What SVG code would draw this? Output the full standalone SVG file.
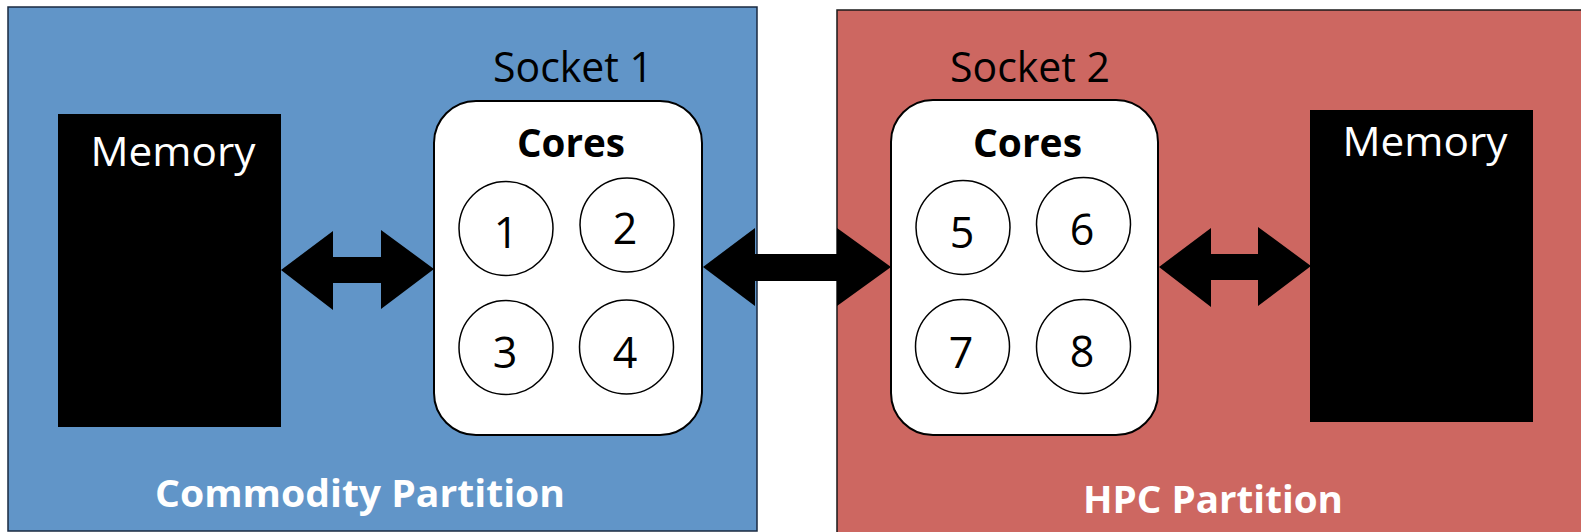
<svg xmlns="http://www.w3.org/2000/svg" width="1581" height="532" viewBox="0 0 1581 532">
  <style>
    .panel-blue { fill: #6195c8; stroke: #1a2a40; stroke-width: 1.5; }
    .panel-red { fill: #cd6761; stroke: #1a1a1a; stroke-width: 1.5; }
    .mem { fill: #000000; }
    .mem-label { font-family: "Open Sans", "Liberation Sans", sans-serif; font-size: 41px; fill: #ffffff; text-anchor: middle; }
    .socket-label { font-family: "Open Sans", "Liberation Sans", sans-serif; font-size: 42px; fill: #000000; text-anchor: middle; }
    .socket { fill: #ffffff; stroke: #000000; stroke-width: 2; }
    .cores-label { font-family: "Open Sans", "Liberation Sans", sans-serif; font-weight: bold; font-size: 40px; fill: #000000; text-anchor: middle; }
    .core { fill: #ffffff; stroke: #000000; stroke-width: 1.5; }
    .core-num { font-family: "Open Sans", "Liberation Sans", sans-serif; font-size: 43px; fill: #000000; text-anchor: middle; }
    .part-label { font-family: "Open Sans", "Liberation Sans", sans-serif; font-weight: bold; font-size: 38px; fill: #ffffff; text-anchor: middle; }
    .link { fill: #000000; stroke: none; }
  </style>

  <!-- partitions -->
  <g id="commodity-partition">
    <rect class="panel-blue" x="8" y="7" width="749" height="524"/>
    <text class="part-label" x="360" y="507" textLength="410" lengthAdjust="spacingAndGlyphs">Commodity Partition</text>
  </g>
  <g id="hpc-partition">
    <rect class="panel-red" x="837" y="10" width="760" height="540"/>
    <text class="part-label" x="1213" y="513" textLength="260" lengthAdjust="spacingAndGlyphs">HPC Partition</text>
  </g>

  <!-- memory banks -->
  <g id="memory-1">
    <rect class="mem" x="58" y="114" width="223" height="313"/>
    <text class="mem-label" x="173" y="166" textLength="165" lengthAdjust="spacingAndGlyphs">Memory</text>
  </g>
  <g id="memory-2">
    <rect class="mem" x="1310" y="110" width="223" height="312"/>
    <text class="mem-label" x="1425" y="156" textLength="165" lengthAdjust="spacingAndGlyphs">Memory</text>
  </g>

  <!-- sockets -->
  <g id="socket-1">
    <text class="socket-label" x="573" y="82" textLength="160" lengthAdjust="spacingAndGlyphs">Socket 1</text>
    <rect class="socket" x="434" y="101" width="268" height="334" rx="42" ry="42"/>
    <text class="cores-label" x="571" y="157" textLength="108" lengthAdjust="spacingAndGlyphs">Cores</text>
    <circle class="core" cx="506" cy="228.5" r="47"/>
    <text class="core-num" x="506" y="248">1</text>
    <circle class="core" cx="627" cy="225" r="47"/>
    <text class="core-num" x="625" y="244">2</text>
    <circle class="core" cx="506" cy="347.5" r="47"/>
    <text class="core-num" x="505" y="368">3</text>
    <circle class="core" cx="626.5" cy="347" r="47"/>
    <text class="core-num" x="625" y="368">4</text>
  </g>
  <g id="socket-2">
    <text class="socket-label" x="1030" y="82" textLength="160" lengthAdjust="spacingAndGlyphs">Socket 2</text>
    <rect class="socket" x="891" y="100" width="267" height="335" rx="42" ry="42"/>
    <text class="cores-label" x="1027.5" y="157" textLength="109" lengthAdjust="spacingAndGlyphs">Cores</text>
    <circle class="core" cx="963" cy="227.5" r="47"/>
    <text class="core-num" x="962" y="248">5</text>
    <circle class="core" cx="1083.5" cy="224.5" r="47"/>
    <text class="core-num" x="1082" y="245">6</text>
    <circle class="core" cx="962.5" cy="346.5" r="47"/>
    <text class="core-num" x="961" y="368">7</text>
    <circle class="core" cx="1083.5" cy="346.5" r="47"/>
    <text class="core-num" x="1082" y="367">8</text>
  </g>

  <!-- double-headed links -->
  <g id="connectors">
    <polygon class="link" points="281,270 333,231 333,257 381,257 381,230 434,269 381,309 381,283 333,283 333,310"/>
    <polygon class="link" points="703,267 755,228 755,254 837,254 837,228 891,267 837,306 837,281 755,281 755,306"/>
    <polygon class="link" points="1159,267 1211,228 1211,254 1258,254 1258,227 1311,266 1258,306 1258,280 1211,280 1211,307"/>
  </g>
</svg>
